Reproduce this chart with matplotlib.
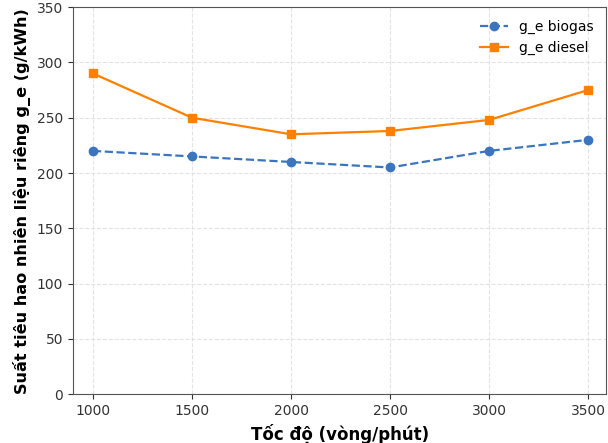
import matplotlib.pyplot as plt

speed = [1000, 1500, 2000, 2500, 3000, 3500]
ge_biogas = [220, 215, 210, 205, 220, 230]
ge_diesel = [290, 250, 235, 238, 248, 275]

fig = plt.figure(figsize=(6.08, 4.43), dpi=100)
ax = fig.add_axes([0.120, 0.110, 0.877, 0.874])

ax.plot(speed, ge_biogas, "o--", color="#3b75bf", markersize=6, linewidth=1.6, label="g_e biogas")
ax.plot(speed, ge_diesel, "s-", color="#ff8000", markersize=6, linewidth=1.6, label="g_e diesel")

ax.set_xlim(899, 3591)
ax.set_ylim(0, 350)
ax.set_xticks(speed)
ax.grid(True, linestyle="--", color="#dddddd", linewidth=0.8, alpha=0.8)
ax.tick_params(labelsize=10, colors="#333333", labelcolor="#333333")
for s in ax.spines.values():
    s.set_color("#555555")

ax.set_xlabel("Tốc độ (vòng/phút)", fontsize=12, fontweight="bold")
ax.set_ylabel("Suất tiêu hao nhiên liệu riêng g_e (g/kWh)", fontsize=11.6, fontweight="bold")
ax.legend(loc="upper right", frameon=False, fontsize=10)

fig.savefig("out.png", dpi=100)
